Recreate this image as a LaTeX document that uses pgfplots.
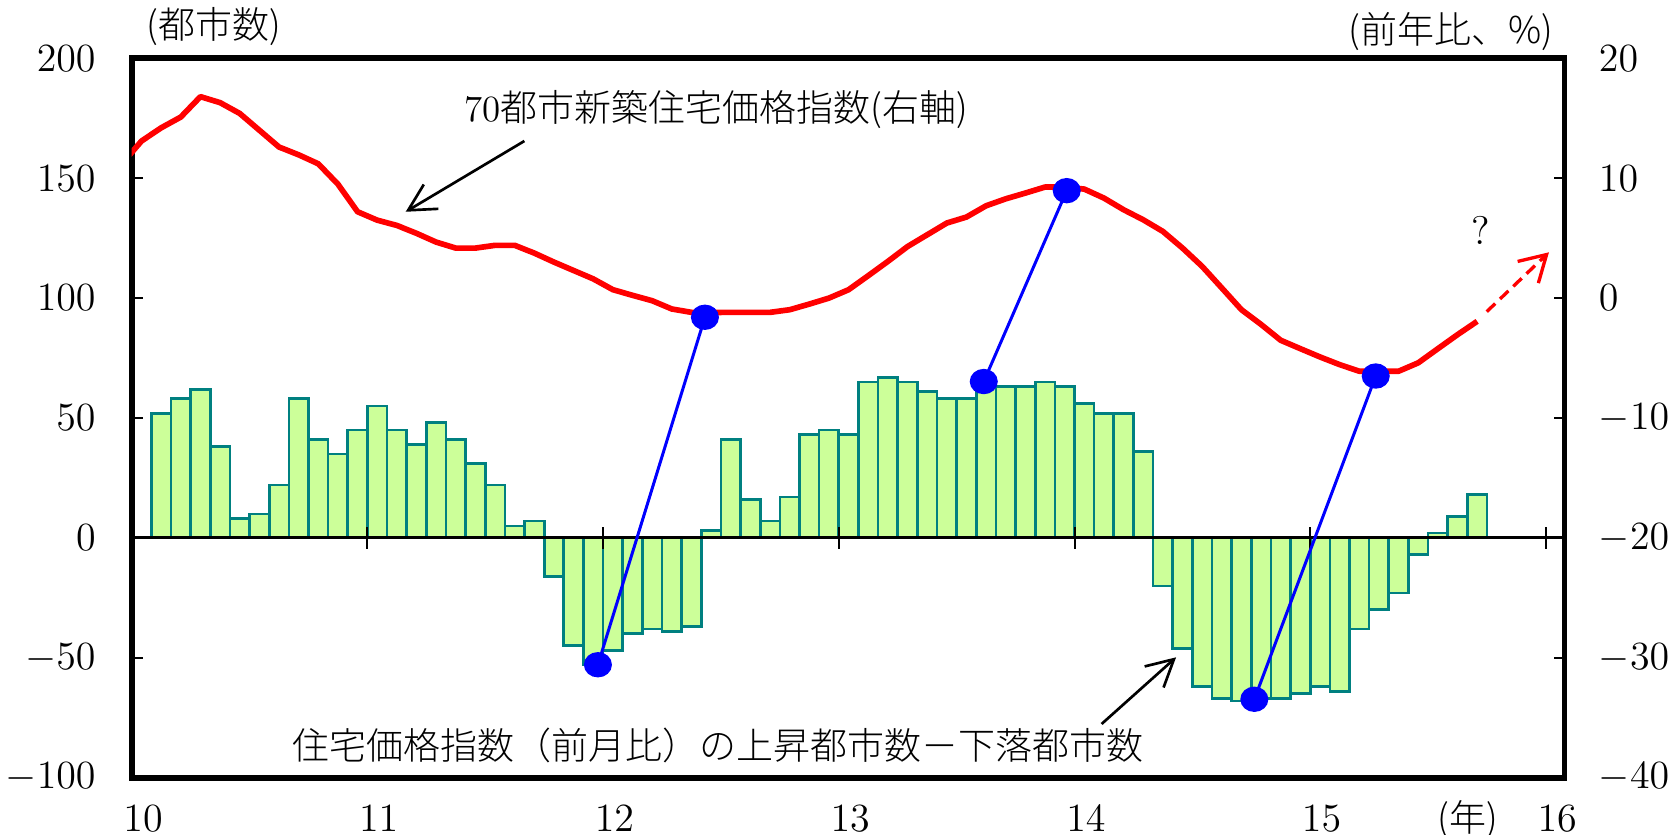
\documentclass[border=0pt]{standalone}
\usepackage{pgfplots}
\pgfplotsset{compat=1.18}
\usepackage{pgfplotstable}
\usepackage{fontspec}
\usetikzlibrary{arrows.meta}
\newfontfamily\jp{Noto Sans CJK JP Light}

\definecolor{barfill}{HTML}{CCFF99}
\definecolor{baredge}{HTML}{008080}

% Cities with rising prices minus cities with falling prices (month-on-month)
% k = months after Jan 2010 (k=1 is Feb 2010)
\pgfplotstableread{
k v
1 52
2 58
3 62
4 38
5 8
6 10
7 22
8 58
9 41
10 35
11 45
12 55
13 45
14 39
15 48
16 41
17 31
18 22
19 5
20 7
21 -16
22 -45
23 -53
24 -47
25 -40
26 -38
27 -39
28 -37
29 3
30 41
31 16
32 7
33 17
34 43
35 45
36 43
37 65
38 67
39 65
40 61
41 58
42 58
43 63
44 63
45 63
46 65
47 63
48 56
49 52
50 52
51 36
52 -20
53 -46
54 -62
55 -67
56 -68
57 -67
58 -67
59 -65
60 -62
61 -64
62 -38
63 -30
64 -23
65 -7
66 2
67 9
68 18
}\cities

% 70-city new home price index, year-on-year change (%)
\pgfplotstableread{
n v
-1 11.2
0 13.1
1 14.2
2 15.1
3 16.8
4 16.3
5 15.4
6 14.0
7 12.6
8 11.95
9 11.2
10 9.5
11 7.2
12 6.5
13 6.06
14 5.4
15 4.67
16 4.17
17 4.17
18 4.4
19 4.4
20 3.75
21 3.0
22 2.3
23 1.6
24 0.7
25 0.23
26 -0.22
27 -0.91
28 -1.19
29 -1.2
30 -1.19
31 -1.19
32 -1.19
33 -0.97
34 -0.5
35 0.0
36 0.7
37 1.87
38 3.06
39 4.3
40 5.28
41 6.26
42 6.76
43 7.7
44 8.28
45 8.76
46 9.26
47 9.26
48 9.09
49 8.34
50 7.37
51 6.53
52 5.56
53 4.17
54 2.64
55 0.84
56 -0.97
57 -2.2
58 -3.52
59 -4.22
60 -4.91
61 -5.55
62 -6.1
63 -6.1
64 -6.1
65 -5.4
66 -4.22
67 -3.05
68 -1.94
}\priceidx

\begin{document}
\begin{tikzpicture}
\pgfplotsset{
  base/.style={
    scale only axis, width=429.84pt, height=215.82pt,
    xmin=10, xmax=16.079,
    tick label style={font=\fontsize{11.5}{13}\selectfont},
    major tick length=3.3pt,
    tick style={black, line width=0.6pt},
    tick align=inside,
    clip mode=individual,
  },
}
% left axis: city counts, bars
\begin{axis}[base, name=A,
  ymin=-100, ymax=200,
  axis line style={line width=1.7pt},
  ytick={-100,-50,...,200}, ytick pos=left,
  yticklabel style={anchor=east, xshift=-7.3pt},
  xtick={10,...,16}, xtick style={draw=none},
  xticklabel style={xshift=3.4pt, yshift=-5pt},
]
\addplot[ybar, bar width=0.0833333, fill=barfill, draw=baredge, line width=0.8pt]
  table[x expr=10+(\thisrow{k}+0.5)/12, y=v] {\cities};
\end{axis}

% right axis: year-on-year price change
\begin{axis}[base,
  ymin=-40, ymax=20,
  axis x line=none, axis y line*=right,
  axis line style={line width=1.7pt, -},
  ytick={-40,-30,...,20},
  yticklabel style={xshift=6.8pt},
]
\addplot[red, line width=1.7pt, line join=round]
  table[x expr=10+(\thisrow{n}+0.5)/12, y=v] {\priceidx};
\addplot[red, line width=1pt, dash pattern=on 3.5pt off 2pt,
  -{Straight Barb[length=7.7pt,width=9pt]}]
  coordinates {(15.749,-1.13) (16.013,3.82)};
\end{axis}

% zero line, connectors and notes
\begin{axis}[base,
  ymin=-100, ymax=200,
  axis x line=middle, axis y line=none,
  axis line style={-, line width=0.9pt},
  xtick={11,...,16}, xticklabels={}, ytick=\empty,
  xtick align=center, major tick length=6.6pt,
]
\addplot[blue, line width=0.9pt, mark=*, mark size=3.35pt,
  mark options={xscale=1.12, fill=blue, draw=blue}]
  coordinates {(11.978,-52.9) (12.432,92.0)};
\addplot[blue, line width=0.9pt, mark=*, mark size=3.35pt,
  mark options={xscale=1.12, fill=blue, draw=blue}]
  coordinates {(13.615,65.2) (13.967,144.8)};
\addplot[blue, line width=0.9pt, mark=*, mark size=3.35pt,
  mark options={xscale=1.12, fill=blue, draw=blue}]
  coordinates {(14.763,-67.3) (15.278,67.5)};

\draw[line width=0.8pt, -{Straight Barb[length=8pt,width=8.5pt]}]
  (axis cs:11.666,165.5) -- (axis cs:11.1625,136.0);
\draw[line width=0.8pt, -{Straight Barb[length=8pt,width=8.5pt]}]
  (axis cs:14.115,-77.6) -- (axis cs:14.431,-49.8);

\node[font=\fontsize{11.1}{13}\selectfont] at (axis cs:12.479,178.7)
  {70\jp 都市新築住宅価格指数(右軸)};
\node[font=\fontsize{11.1}{13}\selectfont\jp] at (axis cs:12.486,-86.4)
  {住宅価格指数（前月比）の上昇都市数－下落都市数};
\node[font=\fontsize{11.1}{13}\selectfont\jp] at (axis cs:10.349,213.2) {(都市数)};
\node[font=\fontsize{11.1}{13}\selectfont\jp] at (axis cs:15.597,211.0) {(前年比、\%)};
\node[font=\fontsize{11.1}{13}\selectfont\jp] at (axis cs:15.669,-117.6) {(年)};
\node[font=\fontsize{12}{14}\selectfont] at (axis cs:15.725,128.2) {?};
\end{axis}

\pgfresetboundingbox
\path[use as bounding box] ([shift={(-39.51pt,-17.19pt)}]A.south west)
  rectangle ([shift={(33.15pt,17.49pt)}]A.north east);
\end{tikzpicture}
\end{document}
